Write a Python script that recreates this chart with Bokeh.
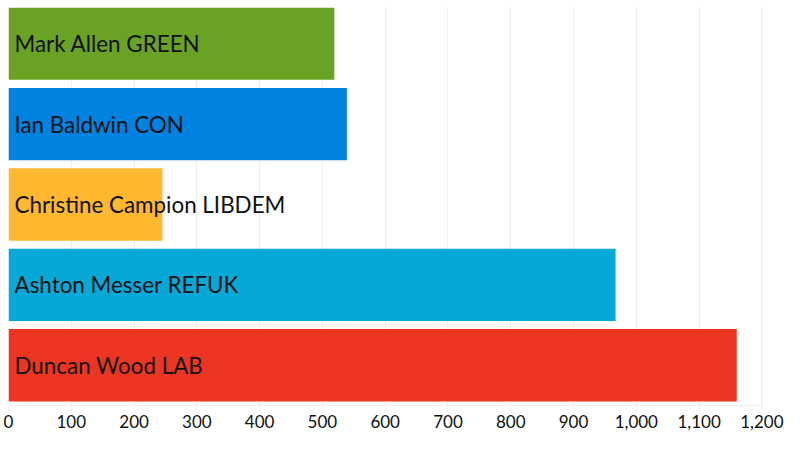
from bokeh.plotting import figure
from bokeh.models import ColumnDataSource, Range1d, FixedTicker, NumeralTickFormatter
from bokeh.core.properties import value
from bokeh.embed import file_html
from bokeh.resources import INLINE

candidates = ["Mark Allen GREEN", "Ian Baldwin CON", "Christine Campion LIBDEM",
              "Ashton Messer REFUK", "Duncan Wood LAB"]
votes = [519, 539, 245, 967, 1160]
colors = ["#6AA223", "#0082E1", "#FFB82F", "#05A8D6", "#ED3621"]
x_ticks = [0, 100, 200, 300, 400, 500, 600, 700, 800, 900, 1000, 1100, 1200]

n = len(candidates)
ypos = [n - 1 - i for i in range(n)]

src = ColumnDataSource(dict(name=candidates, votes=votes, color=colors, y=ypos,
                            x0=[0] * n))

p = figure(width=784, height=434, output_backend="svg", toolbar_location=None,
           x_range=Range1d(0, 1201), y_range=Range1d(-0.5, 4.45),
           min_border_left=8, min_border_right=22, min_border_top=7,
           min_border_bottom=29)

p.hbar(y="y", left=0, right="votes", height=0.9, fill_color="color",
       line_color=None, source=src)
p.text(x="x0", y="y", text="name", x_offset=6, text_baseline="middle",
       text_align="left", text_font=value("Lato"), text_font_size="22.4px",
       text_color="#111111", source=src)

p.yaxis.visible = False
p.ygrid.visible = False
p.outline_line_color = None

p.xaxis.ticker = FixedTicker(ticks=x_ticks)
p.xaxis.formatter = NumeralTickFormatter(format="0,0")
p.xaxis.axis_line_color = "#EEEEF0"
p.xaxis.major_tick_line_color = "#EEEEF0"
p.xaxis.major_tick_out = 6
p.xaxis.major_tick_in = 0
p.xaxis.minor_tick_line_color = None
p.xaxis.major_label_standoff = 3
p.xaxis.major_label_text_font = "Lato"
p.xaxis.major_label_text_font_size = "17px"
p.xaxis.major_label_text_color = "#111111"
p.xgrid.ticker = FixedTicker(ticks=x_ticks)
p.xgrid.grid_line_color = "#EEEEF0"

open("out.html", "w").write(file_html(p, INLINE))
